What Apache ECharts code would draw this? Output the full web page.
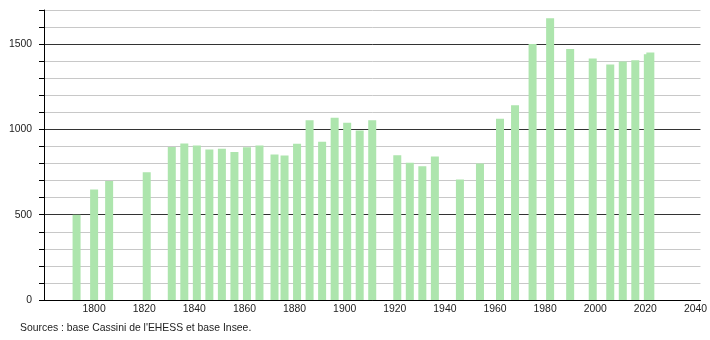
<!DOCTYPE html>
<html><head><meta charset="utf-8">
<script src="https://cdn.jsdelivr.net/npm/echarts@6/dist/echarts.min.js"></script>
<style>html,body{margin:0;padding:0;background:#fff}#c{width:710px;height:340px}</style>
</head><body><div id="c"></div>
<script>
const years = [1793,1800,1806,1821,1831,1836,1841,1846,1851,1856,1861,1866,1872,1876,1881,1886,1891,1896,1901,1906,1911,1921,1926,1931,1936,1946,1954,1962,1968,1975,1982,1990,1999,2006,2011,2016,2021,2022];
const population = [500,648,697,749,897,918,906,882,886,868,896,906,853,847,916,1053,927,1069,1039,994,1053,849,804,784,841,706,800,1063,1141,1500,1651,1471,1416,1380,1398,1406,1441,1451];
const sourceText = "Sources : base Cassini de l'EHESS et base Insee.";

const chart = echarts.init(document.getElementById('c'), null, {renderer: 'canvas'});
const font = 'Liberation Sans, Arial, sans-serif';
const fs = 10.4;
chart.setOption({
  animation: false,
  backgroundColor: '#fff',
  grid: {left: 44, right: 9, top: 10, bottom: 40, containLabel: false},
  xAxis: {
    type: 'value', min: 1780, max: 2042, interval: 20,
    axisLine: {lineStyle: {color: '#000', width: 1}},
    axisTick: {show: false},
    splitLine: {show: false},
    axisLabel: {
      color: '#222', fontFamily: font, fontSize: fs, margin: 4,
      formatter: v => (v % 20 === 0 && v !== 1780) ? String(v) : ''
    }
  },
  yAxis: [{
    type: 'value', min: 0, max: 1700, interval: 100,
    axisLine: {show: true, lineStyle: {color: '#000', width: 1}},
    axisTick: {show: true, length: 2, lineStyle: {color: '#000'}},
    splitLine: {show: true, lineStyle: {color: ['#333', '#c8c8c8', '#c8c8c8', '#c8c8c8', '#c8c8c8'], width: 1}},
    axisLabel: {
      color: '#222', fontFamily: font, fontSize: fs, margin: 12,
      formatter: v => (v % 500 === 0) ? String(v) : ''
    }
  }, {
    type: 'value', min: 0, max: 1700, interval: 100, position: 'left',
    axisLine: {show: false},
    axisTick: {show: true, length: 5, interval: (i, v) => i % 5 === 0, lineStyle: {color: '#000'}},
    splitLine: {show: false},
    axisLabel: {show: false}
  }],
  series: [{
    type: 'bar',
    barWidth: 8,
    yAxisIndex: 0,
    itemStyle: {color: '#ade5ad'},
    data: years.map((y, i) => [y, population[i]])
  }],
  graphic: [{
    type: 'text', left: 20, top: 323,
    style: {text: sourceText, font: fs + 'px ' + font, fill: '#222'}
  }]
});
</script></body></html>
